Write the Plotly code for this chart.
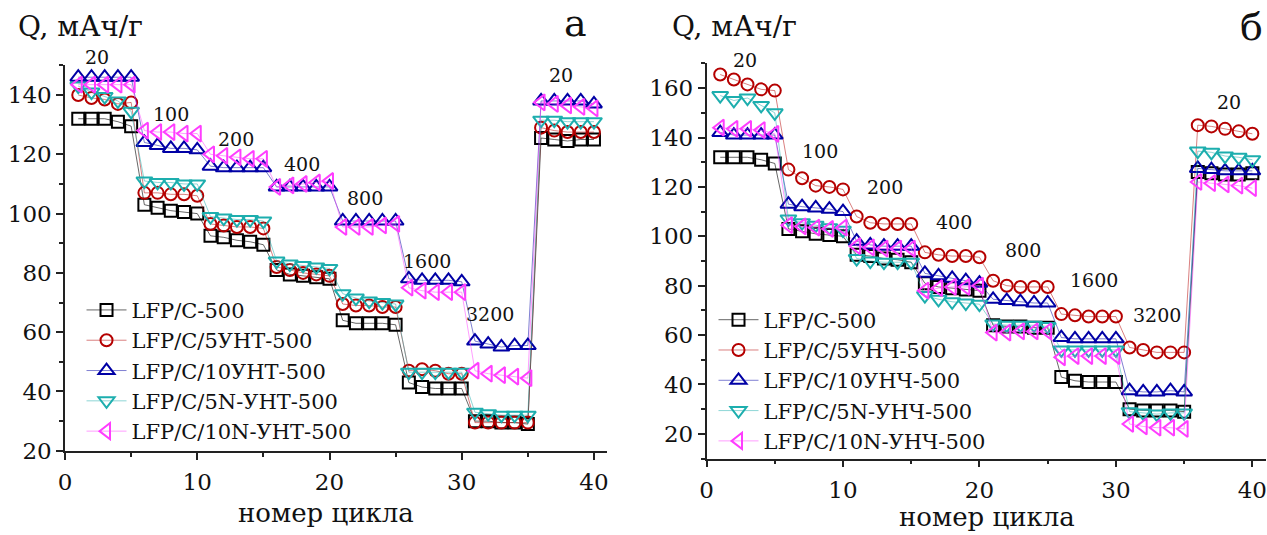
import plotly.graph_objects as go

cycles = list(range(1, 41))

# Panel a (УНТ)
a_lfp_c = [132, 132, 132, 131, 129.5, 103, 102, 101, 100.5, 100,
           92.5, 92, 91, 90.5, 89.5, 81, 79.5, 79, 78.5, 78,
           64, 63, 63, 63, 62.5, 43, 41.5, 41, 41, 41,
           30, 30, 29.5, 29.5, 29, 125.5, 125, 124.5, 125, 125]
a_5unt = [140, 139, 138.5, 137, 137.5, 107, 107, 106.5, 106.5, 106,
          96.5, 96, 95.5, 95.5, 95, 82, 81, 80, 79.5, 79,
          69.5, 69, 69, 68.5, 68.5, 47, 47.5, 47, 46, 46,
          29.5, 29.5, 29.5, 29.5, 29.5, 129, 128, 127.5, 127.5, 127.5]
a_10unt = [146, 146, 146, 146, 146, 124, 123, 122, 122, 121.5,
           116, 115.5, 115.5, 115.5, 115.5, 109, 109, 109, 109, 109,
           97.5, 97.5, 97.5, 97.5, 97.5, 78, 77.5, 77.5, 77.5, 77,
           57, 56, 55, 55.5, 55.5, 138, 138, 138, 138, 137]
a_5nunt = [143, 141, 139.5, 138, 134.5, 111, 110.5, 110.5, 110, 110,
           99, 98.5, 98, 98, 97.5, 84, 83, 82.5, 82, 81.5,
           73, 71.5, 70.5, 70, 69.5, 46.5, 46.5, 46.5, 46.5, 46.5,
           33, 32.5, 32, 32, 32, 131.5, 131.5, 131, 131, 131]
a_10nunt = [143.5, 143.5, 143.5, 143.5, 143.5, 128, 127.5, 127.5, 127, 127,
            120, 119.5, 119, 118.5, 118.5, 109, 109.5, 110, 110.5, 111,
            95.5, 95.5, 95.5, 96, 96.5, 75, 74, 73.5, 73.5, 73.5,
            47, 46, 45.5, 45, 44.5, 137.5, 137, 136.5, 136, 135.5]

# Panel б (УНЧ)
b_lfp_c = [132, 132, 132, 131, 129.5, 103, 102, 101, 100.5, 100,
           92.5, 92, 91, 90.5, 89.5, 81, 79.5, 79, 78.5, 78,
           64, 63.5, 63.5, 63, 63, 43, 41.5, 41, 41, 41,
           30, 29.5, 29.5, 29.5, 29, 126, 125.5, 125, 125, 125.5]
b_5unch = [165.5, 163.5, 161.5, 159.5, 159, 127, 123.5, 120.5, 120, 119,
           108, 105.5, 105, 105, 105, 93.5, 92.5, 92, 92, 91.5,
           82, 80, 79.5, 79.5, 79.5, 68.5, 68, 67.5, 67.5, 67.5,
           55, 54, 53, 53, 53, 145, 144.5, 143.5, 142.5, 141.5]
b_10unch = [142, 141, 141, 141, 141, 113, 112, 111.5, 111, 110,
            98, 96.5, 96, 96, 96, 85, 84, 83, 82, 81,
            74.5, 74, 73.5, 73, 73, 59, 58.5, 58.5, 58.5, 58.5,
            37.5, 37, 37, 37.5, 37, 127.5, 127, 126.5, 126.5, 126.5]
b_5nunch = [157, 155, 156, 153, 150, 107, 105.5, 104.5, 103.5, 102.5,
            91, 90, 89.5, 89.5, 89.5, 76, 74.5, 73.5, 73, 72.5,
            64.5, 64, 64, 64, 63.5, 54, 54, 54, 54, 54,
            29, 28.5, 28, 28.5, 28.5, 134.5, 134, 132.5, 132, 131]
b_10nunch = [144, 143.5, 143.5, 143, 141.5, 104.5, 104, 103.5, 103, 103.5,
             96, 95.5, 95, 95, 95, 78, 79, 79.5, 79.5, 80,
             61, 61, 61.5, 61.5, 61.5, 51, 51.5, 51.5, 51.5, 51.5,
             24, 23, 22.5, 22.5, 22, 122, 121.5, 121, 120.5, 119.5]

names_a = ["LFP/C-500", "LFP/C/5УНТ-500", "LFP/C/10УНТ-500",
           "LFP/C/5N-УНТ-500", "LFP/C/10N-УНТ-500"]
names_b = ["LFP/C-500", "LFP/C/5УНЧ-500", "LFP/C/10УНЧ-500",
           "LFP/C/5N-УНЧ-500", "LFP/C/10N-УНЧ-500"]
rate_labels = ["20", "100", "200", "400", "800", "1600", "3200", "20"]

series_a = [a_lfp_c, a_5unt, a_10unt, a_5nunt, a_10nunt]
series_b = [b_lfp_c, b_5unch, b_10unch, b_5nunch, b_10nunch]

colors = ["#000000", "#B50000", "#0000A5", "#1DAEAE", "#FF3DFF"]
line_colors = ["rgba(0,0,0,0.6)", "rgba(181,0,0,0.5)", "rgba(0,0,165,0.5)",
               "rgba(29,174,174,0.5)", "rgba(255,61,255,0.5)"]
symbols = ["square-open", "circle-open", "triangle-up-open",
           "triangle-down-open", "triangle-left-open"]
sizes = [12, 12, 14, 14, 14]

FONT = "DejaVu Serif, serif"
W, H = 1267, 535

fig = go.Figure()
for i in range(5):
    fig.add_trace(go.Scatter(
        x=cycles, y=series_a[i], name=names_a[i], mode="lines+markers",
        xaxis="x", yaxis="y", legend="legend",
        line=dict(color=line_colors[i], width=1),
        marker=dict(symbol=symbols[i], size=sizes[i], color=colors[i],
                    line=dict(width=2, color=colors[i])),
        cliponaxis=False))
for i in range(5):
    fig.add_trace(go.Scatter(
        x=cycles, y=series_b[i], name=names_b[i], mode="lines+markers",
        xaxis="x2", yaxis="y2", legend="legend2",
        line=dict(color=line_colors[i], width=1),
        marker=dict(symbol=symbols[i], size=sizes[i], color=colors[i],
                    line=dict(width=2, color=colors[i])),
        cliponaxis=False))

axis_common = dict(
    showline=True, linecolor="#222", linewidth=1.5, showgrid=False,
    zeroline=False, ticks="outside", ticklen=7, tickwidth=1.5, tickcolor="#222",
    tickfont=dict(family=FONT, size=23, color="#111"),
)

fig.update_layout(
    width=W, height=H, margin=dict(l=0, r=0, t=0, b=0),
    paper_bgcolor="white", plot_bgcolor="white", showlegend=True,
    font=dict(family=FONT, color="#111"),
    xaxis=dict(domain=[58.4 / W, 604 / W], range=[0, 41], anchor="y",
               dtick=10, tick0=0, ticklabelstandoff=3,
               minor=dict(dtick=5, ticks="outside", ticklen=4, tickcolor="#222"),
               **axis_common),
    yaxis=dict(domain=[1 - 462 / H, 1 - 67 / H], range=[20, 150], anchor="x",
               dtick=20, tick0=20,
               minor=dict(dtick=10, ticks="outside", ticklen=4, tickcolor="#222"),
               **axis_common),
    xaxis2=dict(domain=[704 / W, 1.0], range=[0, 41], anchor="y2",
                dtick=10, tick0=0, ticklabelstandoff=3,
                minor=dict(dtick=5, ticks="outside", ticklen=4, tickcolor="#222"),
                **axis_common),
    yaxis2=dict(domain=[1 - 470 / H, 1 - 65 / H], range=[10, 170], anchor="x2",
                dtick=20, tick0=20,
                minor=dict(dtick=10, ticks="outside", ticklen=4, tickcolor="#222"),
                **axis_common),
    legend=dict(x=75 / W, y=1 - 297 / H, xanchor="left", yanchor="top",
                bgcolor="rgba(0,0,0,0)", font=dict(family=FONT, size=21),
                tracegroupgap=0, itemwidth=40),
    legend2=dict(x=711 / W, y=1 - 307 / H, xanchor="left", yanchor="top",
                 bgcolor="rgba(0,0,0,0)", font=dict(family=FONT, size=21),
                 tracegroupgap=0, itemwidth=40),
)

# rate labels: positions (cycle, capacity) in data coordinates;
# the first labels sit above the axis top, so their height is given in paper px
pos_a = [(2.4, None), (8.0, 133.5), (12.9, 125), (17.9, 116.7),
         (22.7, 105.2), (27.4, 84.1), (32.1, 66), (37.5, 146.6)]
pos_b = [(2.8, None), (8.3, 134.7), (13.1, 120.1), (18.1, 105.8),
         (23.2, 94.4), (28.4, 82.5), (33.0, 68.3), (38.3, 154.5)]
top_label_px = {"x": 58, "x2": 62}

for xr, yr, positions in (("x", "y", pos_a), ("x2", "y2", pos_b)):
    for lbl, (px, py) in zip(rate_labels, positions):
        if py is None:
            yref, yval = "paper", 1 - top_label_px[xr] / H
        else:
            yref, yval = yr, py
        fig.add_annotation(x=px, y=yval, xref=xr, yref=yref, text=lbl,
                           showarrow=False, xanchor="center", yanchor="middle",
                           font=dict(family=FONT, size=19, color="#111"))

def paper_text(txt, xpx, ypx, size):
    fig.add_annotation(x=xpx / W, y=1 - ypx / H, xref="paper", yref="paper",
                       text=txt, showarrow=False, xanchor="center", yanchor="middle",
                       font=dict(family=FONT, size=size, color="#111"))

paper_text("Q, мАч/г", 74, 27, 28)
paper_text("Q, мАч/г", 732, 27, 28)
paper_text("а", 572, 24, 38)
paper_text("б", 1252, 28, 38)
paper_text("номер цикла", 321, 526, 26)
paper_text("номер цикла", 986, 530, 26)

fig.write_html("out.html", config={"displayModeBar": False},
               post_script="document.body.style.margin='0';"
                           "document.body.style.overflow='hidden';")
